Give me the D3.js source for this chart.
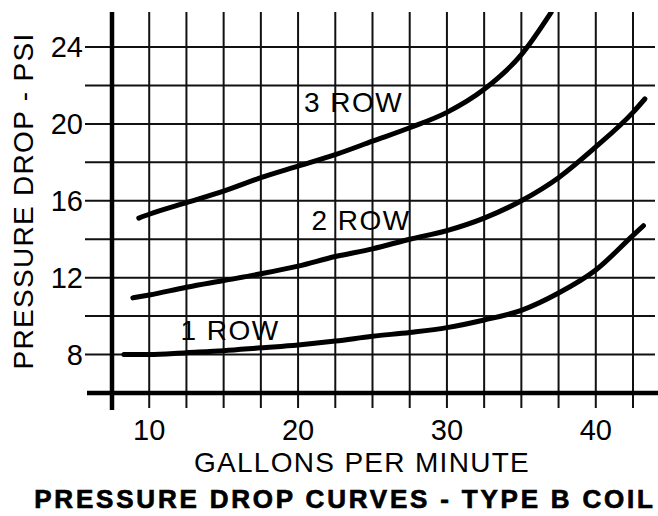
<!DOCTYPE html>
<html lang="en">
<head>
  <meta charset="UTF-8">
  <script src="https://d3js.org/d3.v7.min.js"></script>
  <style>
    body { margin: 0; background: #fff; }
    svg { display: block; font-family: "Liberation Sans", Arial, sans-serif; }
    .grid { stroke: #111; stroke-width: 2; }
    .axis-line { stroke: #000; stroke-width: 4.5; }
    .curve { fill: none; stroke: #000; stroke-width: 5; stroke-linecap: round; stroke-linejoin: round; }
    .tick-label { font-size: 29px; fill: #000; }
    .axis-title { font-size: 28px; fill: #000; letter-spacing: 1.3px; }
    .row-label { font-size: 28px; fill: #000; letter-spacing: 1.5px; }
    .title { font-size: 26px; font-weight: bold; fill: #000; stroke: #000; stroke-width: 0.7; letter-spacing: 2.8px; }
  </style>
</head>
<body>
  <div id="chart"></div>
  <script>
    // gallons per minute vs pressure drop (psi)
    const row1 = [[8.3, 8.0], [10, 8.0], [12.5, 8.1], [15, 8.2], [17.5, 8.35], [20, 8.5], [22.5, 8.7],
      [25, 8.95], [27.5, 9.15], [30, 9.4], [32.5, 9.8], [35, 10.3], [37.5, 11.2], [40, 12.4],
      [42.5, 14.2], [43.2, 14.7]];
    const row2 = [[8.9, 10.95], [10, 11.1], [12.5, 11.5], [15, 11.85], [17.5, 12.2], [20, 12.6],
      [22.5, 13.1], [25, 13.5], [27.5, 14.0], [30, 14.45], [32.5, 15.1], [35, 16.0], [37.5, 17.2],
      [40, 18.8], [42.5, 20.6], [43.3, 21.3]];
    const row3 = [[9.3, 15.1], [10, 15.3], [12.5, 15.9], [15, 16.5], [17.5, 17.2], [20, 17.8],
      [22.5, 18.4], [25, 19.1], [27.5, 19.8], [30, 20.6], [32.5, 21.8], [35, 23.6], [37, 25.8]];

    const series = [row1, row2, row3];
    const rowLabels = ["1 ROW", "2 ROW", "3 ROW"];
    const labelAt = [[12.1, 8.75], [20.9, 14.5], [20.4, 20.6]];

    const xGrid = [10, 12.5, 15, 17.5, 20, 22.5, 25, 27.5, 30, 32.5, 35, 37.5, 40, 42.5];
    const yGrid = [8, 10, 12, 14, 16, 18, 20, 22, 24];
    const xTickLabels = [10, 20, 30, 40];
    const yTickLabels = [8, 12, 16, 20, 24];

    const width = 658, height = 516;

    const x = d3.scaleLinear().domain([7.5, 42.5]).range([112, 633]);
    const y = d3.scaleLinear().domain([6, 24]).range([393, 47]);

    const plotTop = 12, plotRight = 655;

    const svg = d3.select("#chart").append("svg")
      .attr("width", width)
      .attr("height", height);

    // grid
    svg.selectAll(".vgrid")
      .data(xGrid)
      .enter().append("line")
      .attr("class", "grid")
      .attr("x1", d => x(d)).attr("x2", d => x(d))
      .attr("y1", plotTop).attr("y2", y(6) + 15);

    svg.selectAll(".hgrid")
      .data(yGrid)
      .enter().append("line")
      .attr("class", "grid")
      .attr("x1", x(7.5) - 27).attr("x2", plotRight)
      .attr("y1", d => y(d)).attr("y2", d => y(d));

    // axes
    svg.append("line").attr("class", "axis-line")
      .attr("x1", x(7.5)).attr("x2", x(7.5))
      .attr("y1", plotTop).attr("y2", y(6) + 17);
    svg.append("line").attr("class", "axis-line")
      .attr("x1", x(7.5) - 25).attr("x2", width)
      .attr("y1", y(6)).attr("y2", y(6));

    // tick labels
    svg.selectAll(".xlab")
      .data(xTickLabels)
      .enter().append("text")
      .attr("class", "tick-label")
      .attr("text-anchor", "middle")
      .attr("x", d => x(d))
      .attr("y", 440)
      .text(d => d);

    svg.selectAll(".ylab")
      .data(yTickLabels)
      .enter().append("text")
      .attr("class", "tick-label")
      .attr("text-anchor", "end")
      .attr("x", 83)
      .attr("y", d => y(d))
      .attr("dy", "0.36em")
      .text(d => d);

    // curves
    const line = d3.line()
      .x(d => x(d[0]))
      .y(d => y(d[1]))
      .curve(d3.curveMonotoneX);

    svg.append("clipPath").attr("id", "clip")
      .append("rect")
      .attr("x", 0).attr("y", plotTop)
      .attr("width", width).attr("height", height);

    svg.selectAll(".curve")
      .data(series)
      .enter().append("path")
      .attr("class", "curve")
      .attr("clip-path", "url(#clip)")
      .attr("d", line);

    svg.selectAll(".row-label")
      .data(rowLabels)
      .enter().append("text")
      .attr("class", "row-label")
      .attr("x", (d, i) => x(labelAt[i][0]))
      .attr("y", (d, i) => y(labelAt[i][1]))
      .text(d => d);

    // titles
    svg.append("text")
      .attr("class", "axis-title")
      .attr("text-anchor", "middle")
      .attr("x", 362)
      .attr("y", 472)
      .text("GALLONS PER MINUTE");

    svg.append("text")
      .attr("class", "axis-title")
      .attr("text-anchor", "middle")
      .attr("transform", "translate(33,201) rotate(-90)")
      .text("PRESSURE DROP - PSI");

    svg.append("text")
      .attr("class", "title")
      .attr("text-anchor", "middle")
      .attr("x", 345)
      .attr("y", 508)
      .text("PRESSURE DROP CURVES - TYPE B COIL");
  </script>
</body>
</html>
